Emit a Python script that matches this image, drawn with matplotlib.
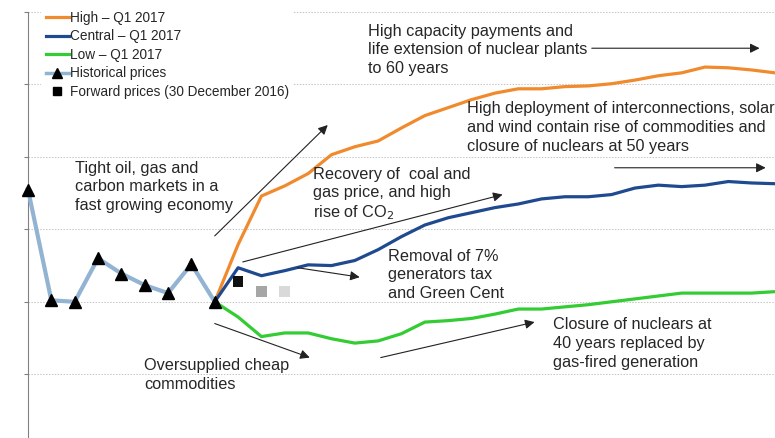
import matplotlib
matplotlib.use("Agg")
import matplotlib.pyplot as plt
from matplotlib.lines import Line2D

plt.rcParams['font.family'] = ['Liberation Sans', 'DejaVu Sans']

# ---- data ----
hist_years = list(range(2008, 2017))
hist_vals = [3.55, 2.02, 2.0, 2.60, 2.39, 2.23, 2.12, 2.52, 2.0]

proj_years = list(range(2016, 2041))
high_vals = [2.0, 2.79, 3.46, 3.60, 3.77, 4.03, 4.14, 4.22, 4.40, 4.57, 4.68, 4.79, 4.88,
             4.94, 4.94, 4.97, 4.98, 5.01, 5.06, 5.12, 5.16, 5.24, 5.23, 5.20, 5.16]
central_vals = [2.0, 2.47, 2.36, 2.43, 2.51, 2.50, 2.57, 2.72, 2.90, 3.06, 3.16, 3.23, 3.30,
                3.35, 3.42, 3.45, 3.45, 3.48, 3.57, 3.61, 3.59, 3.61, 3.66, 3.64, 3.63]
low_vals = [2.0, 1.79, 1.52, 1.57, 1.57, 1.49, 1.43, 1.46, 1.56, 1.72, 1.74, 1.77, 1.83,
            1.90, 1.90, 1.93, 1.96, 2.0, 2.04, 2.08, 2.12, 2.12, 2.12, 2.12, 2.14]

fwd_years = [2017, 2018, 2019]
fwd_vals = [2.28, 2.14, 2.14]
fwd_colors = ['#111111', '#A6A6A6', '#D9D9D9']

legend_labels = ['High – Q1 2017', 'Central – Q1 2017', 'Low – Q1 2017',
                 'Historical prices', 'Forward prices (30 December 2016)']

# ---- styles ----
C_HIGH = '#F08A2C'
C_CENT = '#1F4A8F'
C_LOW = '#33CC33'
C_HIST = '#93B3D3'
TXT = '#262626'

fig = plt.figure(figsize=(7.75, 4.38), dpi=100)
ax = fig.add_axes([28/775, 0.0, 1 - 28/775, (438 - 12)/438])
ax.set_xlim(2008, 2040)
ax.set_ylim(0.12, 6.0)

for g in [1, 2, 3, 4, 5, 6]:
    ax.axhline(g, color='#C4C4C4', lw=0.7, ls=(0, (1.5, 1.5)), zorder=0)

ax.plot(proj_years, high_vals, color=C_HIGH, lw=2.3, zorder=3, clip_on=False)
ax.plot(proj_years, central_vals, color=C_CENT, lw=2.3, zorder=3, clip_on=False)
ax.plot(proj_years, low_vals, color=C_LOW, lw=2.3, zorder=3, clip_on=False)
ax.plot(hist_years, hist_vals, color=C_HIST, lw=3, marker='^', ms=9,
        mfc='black', mec='black', zorder=4, clip_on=False)
ax.scatter(fwd_years, fwd_vals, marker='s', s=60, c=fwd_colors, zorder=5, linewidths=0)

for s in ['top', 'right', 'bottom']:
    ax.spines[s].set_visible(False)
ax.spines['left'].set_color('#808080')
ax.spines['left'].set_linewidth(0.8)
ax.set_yticks([1, 2, 3, 4, 5, 6])
ax.set_yticklabels([])
ax.tick_params(axis='y', length=3, color='#808080', width=0.8)
ax.set_xticks([])

# ---- annotations ----
arrows = [((2016.0, 2.91), (2020.84, 4.44)),
          ((2017.2, 2.55), (2028.33, 3.48)),
          ((2019.55, 2.47), (2022.21, 2.34)),
          ((2016.0, 1.70), (2020.07, 1.23)),
          ((2023.11, 1.23), (2029.70, 1.72)),
          ((2032.15, 5.50), (2039.34, 5.50)),
          ((2033.13, 3.85), (2039.6, 3.85))]
for start, end in arrows:
    ax.annotate('', xy=end, xytext=start,
                arrowprops=dict(arrowstyle='-|>', color='#222222', lw=0.8,
                                mutation_scale=14, shrinkA=0, shrinkB=0),
                zorder=6)

fs = 11.7
texts = [(2022.55, 5.476, 'High capacity payments and\nlife extension of nuclear plants\nto 60 years', 1.32),
         (2026.79, 4.41, 'High deployment of interconnections, solar\nand wind contain rise of commodities and\nclosure of nuclears at 50 years', 1.32),
         (2010.0, 3.586, 'Tight oil, gas and\ncarbon markets in a\nfast growing economy', 1.32),
         (2020.2, 3.48, 'Recovery of  coal and\ngas price, and high\nrise of CO$_2$', 1.22),
         (2023.41, 2.37, 'Removal of 7%\ngenerators tax\nand Green Cent', 1.32),
         (2012.96, 0.986, 'Oversupplied cheap\ncommodities', 1.32),
         (2030.48, 1.42, 'Closure of nuclears at\n40 years replaced by\ngas-fired generation', 1.32)]
for x, y, t, lsp in texts:
    ax.text(x, y, t, fontsize=fs, color=TXT, ha='left', va='center',
            linespacing=lsp, zorder=7)

# ---- legend ----
handles = [Line2D([], [], color=C_HIGH, lw=2.3),
           Line2D([], [], color=C_CENT, lw=2.3),
           Line2D([], [], color=C_LOW, lw=2.3),
           Line2D([], [], color=C_HIST, lw=2.5, marker='^', ms=7, mfc='black', mec='black'),
           Line2D([], [], color='none', marker='s', ms=6, mfc='black', mec='black', lw=0)]
leg = ax.legend(handles, legend_labels, loc='upper left', bbox_to_anchor=(0.018, 1.012),
                fontsize=9.8, frameon=True, facecolor='white', edgecolor='none',
                framealpha=1, handlelength=1.7, handletextpad=0.1, labelspacing=0.33,
                borderpad=0.3, borderaxespad=0)
leg.set_zorder(8)
for t in leg.get_texts():
    t.set_color(TXT)

fig.savefig('out.png', dpi=100)
